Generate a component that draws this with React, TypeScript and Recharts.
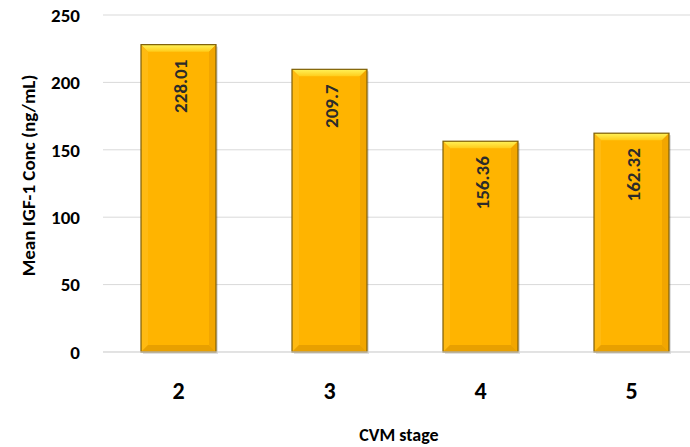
import React from 'react';
import { BarChart, Bar, XAxis, YAxis, CartesianGrid, LabelList } from 'recharts';

const STAGES = ['2', '3', '4', '5'];
const MEAN_IGF1 = [228.01, 209.7, 156.36, 162.32];
const Y_TICKS = [0, 50, 100, 150, 200, 250];

const data = STAGES.map((stage, i) => ({ stage, value: MEAN_IGF1[i] }));

const FONT = "Calibri, Carlito, 'Noto Sans', sans-serif";

// gold bar with a bevel, roughly like the office "3D" bar style
function BevelBar(props: any) {
  const { x, y, width: w, height: h } = props;
  if (!h || h <= 0) return null;
  const b = 7;
  return (
    <g>
      <rect x={x + 2} y={y + 2} width={w} height={h} fill="#000" opacity={0.12} />
      <rect x={x} y={y} width={w} height={h} fill="#FFB400" />
      <polygon points={`${x},${y} ${x + w},${y} ${x + w - b},${y + b} ${x + b},${y + b}`} fill="url(#topBevel)" />
      <polygon points={`${x},${y} ${x + b},${y + b} ${x + b},${y + h - b} ${x},${y + h}`} fill="#FFBA12" />
      <polygon points={`${x + w},${y} ${x + w - b},${y + b} ${x + w - b},${y + h - b} ${x + w},${y + h}`} fill="#F2A600" />
      <polygon points={`${x},${y + h} ${x + b},${y + h - b} ${x + w - b},${y + h - b} ${x + w},${y + h}`} fill="#E8A000" />
      <rect x={x} y={y} width={w} height={h} fill="none" stroke="#7d5e08" strokeWidth={1.2} />
    </g>
  );
}

function ValueLabel(props: any) {
  const { x, y, width, value } = props;
  const cx = x + width / 2 + 2;
  const top = y + 15;
  return (
    <text
      x={cx}
      y={top}
      transform={`rotate(-90 ${cx} ${top})`}
      textAnchor="end"
      dominantBaseline="central"
      fontFamily={FONT}
      fontWeight="bold"
      fontSize={19}
      fill="#2b2b2b"
    >
      {value}
    </text>
  );
}

function YTitle(props: any) {
  const { viewBox } = props;
  const cx = viewBox.x + 28;
  const cy = viewBox.y + viewBox.height / 2 - 8;
  return (
    <text
      x={cx}
      y={cy}
      transform={`rotate(-90 ${cx} ${cy})`}
      textAnchor="middle"
      dominantBaseline="central"
      fontFamily={FONT}
      fontWeight="bold"
      fontSize={19}
      fill="#000"
    >
      Mean IGF-1 Conc (ng/mL)
    </text>
  );
}

export default function App() {
  return (
    <div style={{ position: 'absolute', left: 0, top: 0, width: 690, height: 447, overflow: 'hidden', background: '#fff' }}>
      <BarChart width={710} height={447} data={data} margin={{ top: 15, right: 3, bottom: 0, left: 0 }}>
        <defs>
          <linearGradient id="topBevel" x1="0" y1="0" x2="0" y2="1">
            <stop offset="0%" stopColor="#FFF35A" />
            <stop offset="100%" stopColor="#FFCC1A" />
          </linearGradient>
        </defs>
        <CartesianGrid vertical={false} stroke="#d9d9d9" />
        <XAxis
          dataKey="stage"
          height={95}
          axisLine={{ stroke: '#d9d9d9' }}
          tickLine={false}
          tickSize={0}
          tickMargin={30}
          tick={{ fontFamily: FONT, fontWeight: 'bold', fontSize: 24, fill: '#000' }}
          label={{
            value: 'CVM stage',
            position: 'insideBottom',
            offset: 6,
            dx: -6,
            style: { fontFamily: FONT, fontWeight: 'bold', fontSize: 18, fill: '#000' },
          }}
        />
        <YAxis
          width={103}
          domain={[0, 250]}
          ticks={Y_TICKS}
          axisLine={false}
          tickLine={false}
          tickSize={0}
          tickMargin={23}
          tick={{ fontFamily: FONT, fontWeight: 'bold', fontSize: 19, fill: '#000' }}
          label={<YTitle />}
        />
        <Bar dataKey="value" barSize={75} shape={<BevelBar />} isAnimationActive={false}>
          <LabelList dataKey="value" content={<ValueLabel />} />
        </Bar>
      </BarChart>
    </div>
  );
}
